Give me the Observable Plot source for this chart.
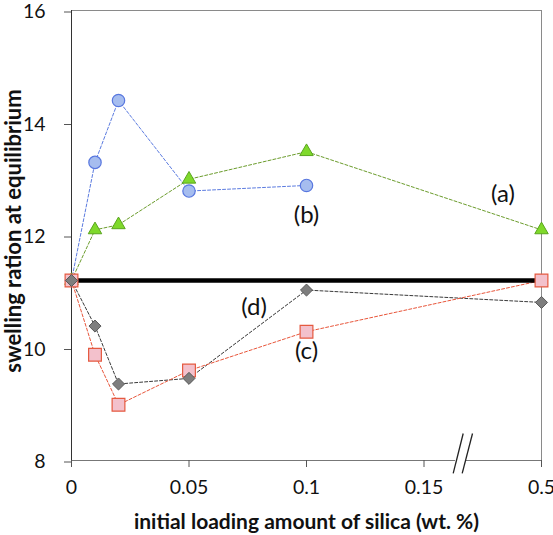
<!DOCTYPE html>
<html>
<head>
<meta charset="utf-8">
<script src="https://cdn.jsdelivr.net/npm/d3@7"></script>
<script src="https://cdn.jsdelivr.net/npm/@observablehq/plot@0.6"></script>
<style>
  html, body { margin: 0; padding: 0; background: #fff; overflow: hidden; }
</style>
</head>
<body>
<div id="chart"></div>
<script>
// Initial silica loading (wt. %) and swelling ratio at equilibrium
const loading = [0, 0.01, 0.02, 0.05, 0.1, 0.5];
const seriesA = [11.2, 12.1, 12.19, 13.0, 13.49, 12.1];   // triangles
const seriesB = [11.2, 13.3, 14.4, 12.79, 12.89];         // circles (no 0.5 sample)
const seriesC = [11.2, 9.88, 8.99, 9.6, 10.29, 11.2];     // squares
const seriesD = [11.2, 10.39, 9.36, 9.46, 11.03, 10.81];  // diamonds
const referenceLevel = 11.2;

const xTicks = [0, 0.05, 0.1, 0.15, 0.5];
const yTicks = [8, 10, 12, 14, 16];

const curveLabels = [
  {x: 0.385, y: 12.73, text: "(a)"},
  {x: 0.1, y: 12.36, text: "(b)"},
  {x: 0.1, y: 9.95, text: "(c)"},
  {x: 0.0777, y: 10.72, text: "(d)"}
];

// broken x axis: 0.15 … 0.5 is squeezed into one 0.05 step
const compress = v => v <= 0.15 ? v : 0.15 + (v - 0.15) * (0.05 / 0.35);
const nearTicks = xTicks.filter(t => t <= 0.15);
const farTicks = xTicks.filter(t => t > 0.15);

const rows = vals => vals.map((v, i) => ({x: loading[i], y: v}));
const A = rows(seriesA), B = rows(seriesB), C = rows(seriesC), D = rows(seriesD);

const diamond = {
  draw(ctx, size) {
    const h = Math.sqrt(size / 2);
    ctx.moveTo(0, -h); ctx.lineTo(h, 0); ctx.lineTo(0, h); ctx.lineTo(-h, 0); ctx.closePath();
  }
};

const dash = {strokeWidth: 1, strokeDasharray: "3,2"};
const tickFont = 19.5;

const chart = Plot.plot({
  width: 553,
  height: 535,
  marginTop: 10,
  marginBottom: 75,
  marginLeft: 71,
  marginRight: 12,
  style: {fontFamily: "Lato, sans-serif", background: "white"},
  x: {type: "linear", transform: compress, domain: [0, 0.2]},
  y: {domain: [8, 16]},
  marks: [
    // frame: top and right in grey, left axis dark
    Plot.ruleY([16], {x1: 0, x2: 0.5, stroke: "#8a8a8a"}),
    Plot.ruleX([0.5], {y1: 8, y2: 16, stroke: "#8a8a8a"}),
    Plot.ruleX([0], {y1: 8, y2: 16, stroke: "#333"}),
    // broken bottom axis
    Plot.ruleY([{a: 0, b: 0.2438}, {a: 0.2736, b: 0.5}], {y: () => 8, x1: "a", x2: "b", stroke: "#777"}),
    Plot.link([{x1: 0.2668, y1: 8.48, x2: 0.237, y2: 7.77}, {x1: 0.2945, y1: 8.48, x2: 0.2638, y2: 7.77}],
      {x1: "x1", y1: "y1", x2: "x2", y2: "y2", stroke: "#222", strokeWidth: 1.3}),
    Plot.axisX({ticks: nearTicks, tickFormat: d => String(d), tickSize: 7, tickPadding: 13, fontSize: tickFont, stroke: "#555", color: "#111", label: null}),
    // tick and label past the break
    Plot.ruleX(farTicks, {y1: 8, y2: 8 - 7 / 56.25, stroke: "#555"}),
    Plot.text(farTicks, {x: d => d, text: d => String(d), frameAnchor: "bottom", lineAnchor: "top", dy: 20, fontSize: tickFont, fill: "#111"}),
    Plot.axisY({ticks: yTicks, tickSize: 7, tickPadding: 19, dy: 1.5, fontSize: tickFont, stroke: "#555", color: "#111", label: null}),
    Plot.text(["initial loading amount of silica (wt. %)"], {frameAnchor: "bottom", textAnchor: "middle", lineAnchor: "middle", dy: 62, fontSize: 21, fontWeight: "bold", fill: "#111"}),
    Plot.text(["swelling ration at equilibrium"], {frameAnchor: "left", textAnchor: "middle", lineAnchor: "middle", dx: -58, dy: -4.5, rotate: -90, fontSize: 22, fontWeight: "bold", fill: "#111"}),
    // dashed connecting lines
    Plot.line(B, {x: "x", y: "y", stroke: "#5b7be0", ...dash}),
    Plot.line(A, {x: "x", y: "y", stroke: "#6b9c2c", ...dash}),
    Plot.line(D, {x: "x", y: "y", stroke: "#3a3a3a", ...dash}),
    Plot.line(C, {x: "x", y: "y", stroke: "#e8553a", ...dash}),
    // unloaded reference level
    Plot.ruleY([referenceLevel], {x1: 0, x2: 0.5, stroke: "#000", strokeWidth: 4.5}),
    // markers
    Plot.dot(B, {x: "x", y: "y", r: 6.2, symbol: "circle", fill: "#a6bdef", stroke: "#5877df", strokeWidth: 1.2}),
    Plot.dot(A, {x: "x", y: "y", r: 5, symbol: "triangle", fill: "#7fd92b", stroke: "#5aa51e", strokeWidth: 1}),
    Plot.dot(C, {x: "x", y: "y", r: 7.2, symbol: "square", fill: "#f3c1cc", stroke: "#e55a40", strokeWidth: 1.2}),
    Plot.dot(D, {x: "x", y: "y", r: 4.8, symbol: diamond, fill: "#7e7e7e", stroke: "#595959", strokeWidth: 1}),
    Plot.text(curveLabels, {x: "x", y: "y", text: "text", fontSize: 24, fill: "#111"})
  ]
});

document.getElementById("chart").appendChild(chart);
</script>
</body>
</html>
